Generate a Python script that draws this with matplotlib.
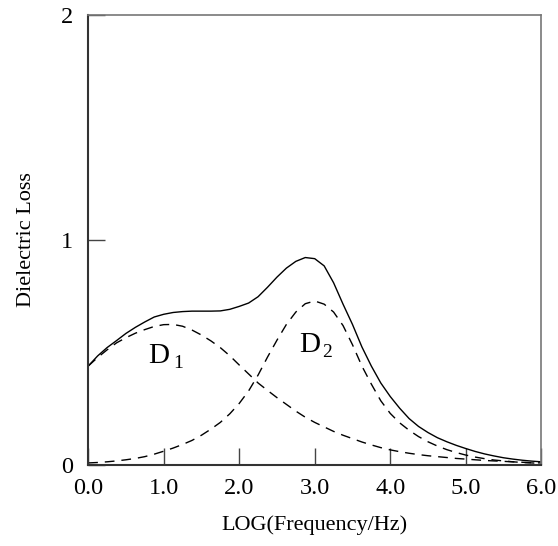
import matplotlib
matplotlib.use("Agg")
import matplotlib.pyplot as plt

# log frequency grid (step 0.125) and curves
log_freq = [0.0, 0.125, 0.25, 0.375, 0.5, 0.625, 0.75, 0.875,
            1.0, 1.125, 1.25, 1.375, 1.5, 1.625, 1.75, 1.875,
            2.0, 2.125, 2.25, 2.375, 2.5, 2.625, 2.75, 2.875,
            3.0, 3.125, 3.25, 3.375, 3.5, 3.625, 3.75, 3.875,
            4.0, 4.125, 4.25, 4.375, 4.5, 4.625, 4.75, 4.875,
            5.0, 5.125, 5.25, 5.375, 5.5, 5.625, 5.75, 5.875, 6.0]

loss_d1 = [0.44, 0.478, 0.512, 0.543, 0.566, 0.586, 0.602, 0.616,
           0.624, 0.625, 0.617, 0.600, 0.578, 0.552, 0.522, 0.486,
           0.445, 0.405, 0.365, 0.332, 0.30, 0.27, 0.24, 0.213,
           0.19, 0.17, 0.15, 0.133, 0.118, 0.103, 0.09, 0.078,
           0.068, 0.06, 0.053, 0.047, 0.042, 0.038, 0.034, 0.030,
           0.027, 0.024, 0.021, 0.019, 0.017, 0.015, 0.013, 0.011, 0.010]

loss_d2 = [0.010, 0.012, 0.015, 0.019, 0.024, 0.030, 0.038, 0.049,
           0.062, 0.076, 0.092, 0.110, 0.133, 0.160, 0.190, 0.228,
           0.274, 0.33, 0.40, 0.48, 0.555, 0.625, 0.68, 0.717,
           0.729, 0.715, 0.68, 0.62, 0.535, 0.44, 0.36, 0.286,
           0.23, 0.188, 0.155, 0.127, 0.104, 0.085, 0.069, 0.056,
           0.045, 0.036, 0.029, 0.023, 0.019, 0.015, 0.012, 0.010, 0.008]

loss_total = [0.44, 0.485, 0.522, 0.553, 0.585, 0.612, 0.636, 0.658,
              0.670, 0.678, 0.682, 0.684, 0.684, 0.684, 0.685, 0.692,
              0.705, 0.72, 0.748, 0.79, 0.835, 0.875, 0.905, 0.922,
              0.917, 0.885, 0.81, 0.715, 0.625, 0.525, 0.44, 0.365,
              0.305, 0.253, 0.207, 0.172, 0.145, 0.122, 0.104, 0.088,
              0.074, 0.061, 0.05, 0.041, 0.033, 0.027, 0.022, 0.018, 0.015]

x_ticks = [0, 1, 2, 3, 4, 5, 6]
x_tick_labels = ["0.0", "1.0", "2.0", "3.0", "4.0", "5.0", "6.0"]
y_ticks = [0, 1, 2]
y_tick_labels = ["0", "1", "2"]

plt.rcParams['font.family'] = ['Liberation Serif', 'DejaVu Serif']

fig = plt.figure(figsize=(5.58, 5.46), dpi=100)
ax = fig.add_axes([0.158, 0.148, 0.812, 0.825])

ax.plot(log_freq, loss_total, color='black', lw=1.0)
ax.plot(log_freq, loss_d1, color='black', lw=1.0, dashes=(7, 5))
ax.plot(log_freq, loss_d2, color='black', lw=1.0, dashes=(7, 5))

ax.set_xlim(0, 6)
ax.set_ylim(0, 2)
ax.set_xticks(x_ticks)
ax.set_xticklabels(x_tick_labels, fontsize=17.5)
ax.set_yticks(y_ticks)
ax.set_yticklabels(y_tick_labels, fontsize=17.5)
ax.tick_params(direction='in', length=12, width=1, color='#444444')
ax.tick_params(axis='x', pad=9)
ax.tick_params(axis='y', pad=11)

for side in ['left', 'bottom']:
  ax.spines[side].set_color('#333333')
  ax.spines[side].set_linewidth(1.5)
for side in ['top', 'right']:
  ax.spines[side].set_color('#777777')
  ax.spines[side].set_linewidth(1.2)

# curve labels
ax.text(0.8, 0.455, "D", fontsize=21)
ax.text(1.12, 0.43, "1", fontsize=14)
ax.text(2.79, 0.504, "D", fontsize=21)
ax.text(3.10, 0.48, "2", fontsize=14)

ax.set_xlabel("LOG(Frequency/Hz)", fontsize=16, labelpad=12)
ax.set_ylabel("Dielectric Loss", fontsize=16, labelpad=18)

fig.savefig("out.png", dpi=100)
